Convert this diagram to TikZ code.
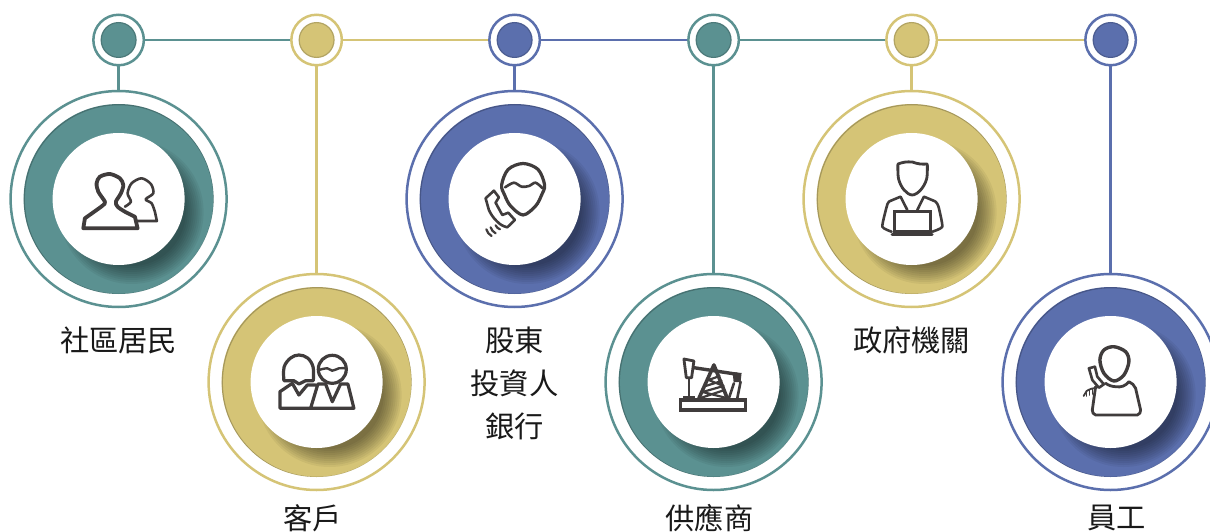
\documentclass[tikz,border=0pt]{standalone}
\usepackage{fontspec}
\usetikzlibrary{positioning}
\newfontfamily\cjk{Noto Sans CJK TC}
\definecolor{tealc}{HTML}{5B9191}
\definecolor{goldc}{HTML}{D5C476}
\definecolor{bluec}{HTML}{5B6FAD}
\definecolor{iconc}{HTML}{403C3C}
\tikzset{
  bigdisc/.style={circle, draw=#1, line width=2.5pt, fill=white, inner sep=0pt,
    minimum size=216pt, path picture={
      \coordinate (pc) at (path picture bounding box.center);
      \begin{scope}
        \fill[#1] (pc) circle[radius=95pt];
        \clip (pc) circle[radius=95pt];
        \foreach \r in {54,56,...,72} {
          \fill[black, opacity=.05] ([xshift=13pt, yshift=-13pt]pc) circle[radius=\r pt];
        }
        % rim, heavier towards the top left
        \draw[black, opacity=.22, line width=1.2pt] ([xshift=.5pt, yshift=-.5pt]pc) circle[radius=94.8pt];
      \end{scope}
      \fill[white] (pc) circle[radius=66pt];
    }},
  smalldot/.style={circle, draw=#1, line width=2.5pt, fill=white, inner sep=0pt,
    minimum size=50.5pt, path picture={
      \coordinate (pc) at (path picture bounding box.center);
      \fill[#1] (pc) circle[radius=18pt];
      \draw[black, opacity=.16, line width=1.2pt] (pc) circle[radius=17.4pt];
    }},
  conn/.style={draw=#1, line width=2.5pt},
  textlabel/.style={align=center, inner sep=0pt, text=black!90,
    font=\cjk\fontsize{29.3pt}{43pt}\selectfont},
  iconline/.style={draw=iconc, line width=3.2pt, line join=round, line cap=round},
  pics/crowd/.style={code={
    \draw[iconline, line width=2.6pt] plot[smooth, tension=.5] coordinates {(6.3,7.7) (12.3,2.7) (9,-5.7) (13,-15.7) (23,-20.7) (32.3,-15) (34.7,-5.7) (27,.3) (33,4.3) (36.3,12.7)}
      -- (38.3,22) -- (18,22);
    \draw[iconline, line width=3.8pt] plot[smooth, tension=.5] coordinates {(-33.7,19.3) (-22,11) (-15.3,6) (-13.7,2.7) (-20.3,-7.3) (-22,-15.7) (-18.7,-22.3) (-8.7,-25) (1.3,-20.7) (4.7,-14) (2.3,-5.7) (-2.7,2.7) (-1,7.7) (6.3,12.7) (16.3,17.7)}
      -- (19,29.3) -- (-35.3,29.3) -- cycle;
  }},
  pics/couple/.style={code={
    \draw[iconline] plot[smooth, tension=.6] coordinates {(-32.7,-1.3) (-32.5,-15) (-26,-24) (-17.7,-27) (-9,-24) (-3.5,-15) (-3.3,-1.3)}
      -- (-11,-1.3) -- (-17.7,2) -- (-22.7,-1.3) -- cycle;
    \draw[iconline] (-1,3) -- (-9.3,3) -- (-17.7,13) -- (-24.3,1.3) -- (-36.7,9.7) -- (-36.7,26.3) -- (37.3,26.3) -- (31.3,2) -- (24,2) -- (15.7,19.7) -- (9,2) -- (1.3,2) -- (-6,26.3);
    \draw[iconline] (15.7,-12.7) circle[radius=14pt];
    \draw[iconline, line width=2.4pt] plot[smooth, tension=.7] coordinates {(2.3,-12) (10.7,-13.7) (15.7,-11.3) (22.3,-13.7) (29,-13.7)};
  }},
  pics/caller/.style={code={
    \draw[iconline] plot[smooth cycle, tension=.55] coordinates {(-13,-14) (-6.5,-29.5) (8.5,-35.5) (23.5,-29.5) (30,-14) (27,-4) (21,7) (8.5,16) (-4,7) (-10,-4)};
    \draw[iconline, line width=2.6pt] plot[smooth, tension=.5] coordinates {(-9.5,-11.7) (-.7,-16.3) (7,-12.3) (14.3,-13) (21,-16.3) (28,-10.7)};
    \draw[iconline, line width=2.6pt] (-29,-.7) -- (-20.7,-8.3) -- (-15.7,-1.7) -- (-19,3.7) -- (-12.3,16) -- (-6.3,13.7) -- (.3,21) -- (-7.3,28.3) to[bend left=15] (-17.3,22.7) to[bend left=10] (-25.7,11) -- cycle;
    \foreach \xa/\ya/\xb/\yb in {-28.3/30.3/-23/37, -24/28.3/-19/34.3, -19/26.3/-14.7/30.3} {
      \draw[iconline, line width=2.2pt] (\xa,\ya) to[bend right=20] (\xb,\yb);
    }
  }},
  pics/pumpjack/.style={code={
    \draw[iconline, line width=3.4pt, line cap=butt, line join=miter] (-33,18) rectangle (32,28);
    \fill[iconc] (-30.5,17) -- (-30.5,14) -- (-19,14) -- (-19,17) -- cycle;
    \draw[iconline, line width=2.8pt] (-29.7,-23) -- (-19.7,-21) -- (-22,-4.3) -- (-27.3,-4.3) -- cycle;
    \draw[iconline, line width=2.4pt] (-24.7,-4.3) -- (-24.7,14.7);
    \draw[iconline, line width=3.4pt] (-19.7,-14.3) -- (23.7,-7.7);
    \fill[iconc] (19,-10) -- (28,-9) -- (27,0) -- (20,0) -- cycle;
    \draw[iconline, line width=3.6pt] (.3,-17) -- (-14.7,16.3);
    \draw[iconline, line width=3.6pt] (.3,-17) -- (13.7,16.3);
    \draw[iconline, line width=2.2pt] (-5,-2) -- (6,-6) (-8,4) -- (8,-1) (-11,10) -- (10,4) (-13,16) -- (11,8) (-5,-2) -- (10,4) (-11,10) -- (13,16);
    \draw[iconline, line width=2.6pt] (20.3,1.3) -- (15.3,16.3) (27,-.3) -- (23.7,16.3);
  }},
  pics/officer/.style={code={
    \draw[iconline, line width=2.8pt] (-13.7,-35) to[bend left=12] (.7,-37) to[bend right=12] (15.7,-35)
      plot[smooth, tension=.6] coordinates {(15.7,-35) (15,-20) (9,-9) (.7,-4) (-7.5,-9) (-13,-20) (-13.7,-35)};
    \draw[iconline, line width=2.6pt] plot[smooth, tension=.3] coordinates {(-20,32.7) (-29.3,27.7) (-25,8) (-22.7,2.7) (-11,-2.3)} -- (-4.3,11);
    \draw[iconline, line width=2.6pt] plot[smooth, tension=.3] coordinates {(20.7,32.7) (30.7,27.7) (27,8) (24,2.7) (12.3,-2.3)} -- (5.7,11);
    \draw[iconline, line width=3pt, line join=miter, line cap=butt] (-17,12) rectangle (19,32.7);
    \draw[iconline, line width=3pt] (-19.5,35.5) -- (20.5,35.5);
  }},
  pics/headset/.style={code={
    \draw[iconline, line width=3.4pt] plot[smooth cycle, tension=.55] coordinates {(-10.7,-22) (-6.7,-32) (3.3,-35.3) (15,-30.3) (18.3,-20.3) (13.3,-7) (3.3,-1) (-6.7,-8.7)};
    \draw[iconline, line width=2.8pt] (-15,4.7) -- (-18.3,28) to[bend right=40] (-15,33) -- (26.7,33) to[bend right=40] (30,28) -- (25,6.3) to[bend right=20] (18.3,-.3) to[bend left=30] (5,4.7) to[bend left=15] (-5,1.3);
    \draw[iconline, line width=2.6pt] (-21.7,-13.7) -- (-15.7,-15.3) -- (-13.3,-5.3) -- (-6.7,2.3) -- (-11.7,5.7) -- (-18.3,-2) -- cycle;
    \draw[iconline, line width=1.8pt] (-14,6) to[bend right=15] (-24,9) to[bend right=15] (-27,14);
    \foreach \xa/\ya in {-24/9, -21/8, -18/7} {
      \draw[iconline, line width=1.6pt] (\xa,\ya) -- (\xa,\ya+5);
    }
  }},
}
\begin{document}
\begin{tikzpicture}[x=1pt, y=-1pt, node distance=198pt, on grid]
  \useasboundingbox (0,0) rectangle (1210,532);
  % top row of dots
  \node[smalldot=tealc]              (d1) at (118.6,40) {};
  \node[smalldot=goldc, right=of d1] (d2) {};
  \node[smalldot=bluec, right=of d2] (d3) {};
  \node[smalldot=tealc, right=199pt of d3] (d4) {};
  \node[smalldot=goldc, right=of d4] (d5) {};
  \node[smalldot=bluec, right=199pt of d5] (d6) {};
  % big discs, hanging from the dots
  \node[bigdisc=tealc, below=159pt of d1] (b1) {};
  \node[bigdisc=goldc, below=342pt of d2] (b2) {};
  \node[bigdisc=bluec, below=159pt of d3] (b3) {};
  \node[bigdisc=tealc, below=342pt of d4] (b4) {};
  \node[bigdisc=goldc, below=159pt of d5] (b5) {};
  \node[bigdisc=bluec, below=342pt of d6] (b6) {};
  % labels
  \node[textlabel, below=141pt of b1] (t1) {社區居民};
  \node[textlabel, below=136pt of b2, xshift=-4pt] (t2) {客戶};
  \node[textlabel, below=184pt of b3] (t3) {股東\\投資人\\銀行};
  \node[textlabel, below=136pt of b4, xshift=-4pt] (t4) {供應商};
  \node[textlabel, below=141pt of b5] (t5) {政府機關};
  \node[textlabel, below=136pt of b6, xshift=6pt] (t6) {員工};
  % connect the row
  \draw[conn=tealc] (d1) -- (d2);
  \draw[conn=goldc] (d2) -- (d3);
  \draw[conn=bluec] (d3) -- (d4);
  \draw[conn=tealc] (d4) -- (d5);
  \draw[conn=goldc] (d5) -- (d6);
  % connect dots to discs
  \draw[conn=tealc] (d1) -- (b1);
  \draw[conn=goldc] (d2) -- (b2);
  \draw[conn=bluec] (d3) -- (b3);
  \draw[conn=tealc] (d4) -- (b4);
  \draw[conn=goldc] (d5) -- (b5);
  \draw[conn=bluec] (d6) -- (b6);
  % icons
  \pic at (b1) {crowd};
  \pic at (b2) {couple};
  \pic at (b3) {caller};
  \pic at (b4) {pumpjack};
  \pic at (b5) {officer};
  \pic at (b6) {headset};
\end{tikzpicture}
\end{document}
